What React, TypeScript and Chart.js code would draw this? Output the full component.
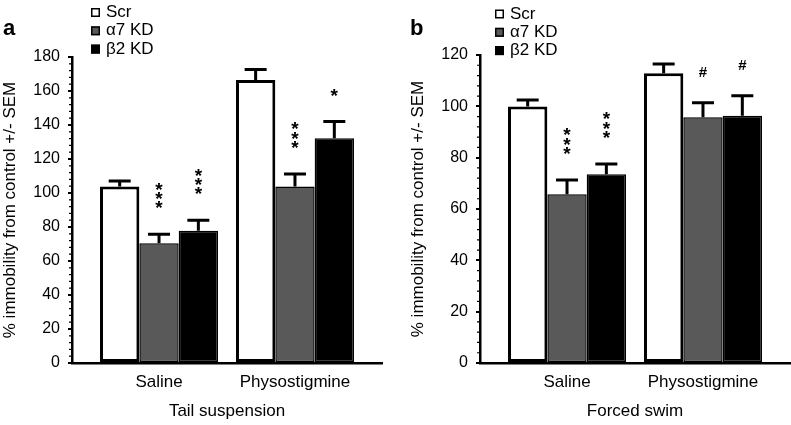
import React, { useEffect, useRef } from 'react';
import { Chart, registerables } from 'chart.js';

Chart.register(...registerables);

// ---------- data ----------
const CATEGORIES = ['Saline', 'Physostigmine'];
const SERIES = ['Scr', 'α7 KD', 'β2 KD'];
const COLORS = ['#ffffff', '#595959', '#000000'];
const Y_TITLE = '% immobility from control +/- SEM';

// Panel a – Tail suspension
const A_SCR = [103.8, 166.4];
const A_A7 = [70.5, 103.8];
const A_B2 = [77.8, 132.2];
const A_SCR_ERR = [3.2, 6.3];
const A_A7_ERR = [5.3, 7.4];
const A_B2_ERR = [6.1, 9.8];
const A_SIG_SCR = ['', ''];
const A_SIG_A7 = ['***', '***'];
const A_SIG_B2 = ['***', '*'];
const A_Y_MAX = 180;

// Panel b – Forced swim
const B_SCR = [99.9, 112.9];
const B_A7 = [65.7, 95.7];
const B_B2 = [73.5, 96.3];
const B_SCR_ERR = [2.6, 3.6];
const B_A7_ERR = [5.6, 5.7];
const B_B2_ERR = [4.0, 7.8];
const B_SIG_SCR = ['', ''];
const B_SIG_A7 = ['***', '#'];
const B_SIG_B2 = ['***', '#'];
const B_Y_MAX = 120;

const Y_STEP = 20;
const Y_MINOR_STEP = 4;

const FONT = '"Liberation Sans", Arial, sans-serif';

type PanelCfg = {
  letter: string;
  xTitle: string;
  values: number[][];
  errors: number[][];
  sigs: string[][];
  yMax: number;
  left: number;
  width: number;
  padLeft: number;
  padTop: number;
  padRight: number;
  legendX: number;
  legendTop: number;
  letterX: number;
};

const PANELS: PanelCfg[] = [
  {
    letter: 'a',
    xTitle: 'Tail suspension',
    values: [A_SCR, A_A7, A_B2],
    errors: [A_SCR_ERR, A_A7_ERR, A_B2_ERR],
    sigs: [A_SIG_SCR, A_SIG_A7, A_SIG_B2],
    yMax: A_Y_MAX,
    left: 0,
    width: 395,
    padLeft: 0,
    padTop: 57,
    padRight: 13,
    legendX: 91,
    legendTop: 12.5,
    letterX: 3,
  },
  {
    letter: 'b',
    xTitle: 'Forced swim',
    values: [B_SCR, B_A7, B_B2],
    errors: [B_SCR_ERR, B_A7_ERR, B_B2_ERR],
    sigs: [B_SIG_SCR, B_SIG_A7, B_SIG_B2],
    yMax: B_Y_MAX,
    left: 400,
    width: 391,
    padLeft: 8,
    padTop: 55,
    padRight: 1,
    legendX: 95,
    legendTop: 14,
    letterX: 10,
  },
];

function Panel({ cfg }: { cfg: PanelCfg }) {
  const ref = useRef<HTMLCanvasElement>(null);

  useEffect(() => {
    const canvas = ref.current;
    if (!canvas) return;

    const overlay = {
      id: 'overlay' + cfg.letter,
      afterDatasetsDraw(chart: any) {
        const ctx = chart.ctx as CanvasRenderingContext2D;
        const yScale = chart.scales.y;
        cfg.values.forEach((vals, s) => {
          const meta = chart.getDatasetMeta(s);
          meta.data.forEach((bar: any, i: number) => {
            const yErr = yScale.getPixelForValue(vals[i] + cfg.errors[s][i]);
            ctx.save();
            ctx.strokeStyle = '#000';
            ctx.lineWidth = 3;
            ctx.beginPath();
            ctx.moveTo(bar.x, bar.y);
            ctx.lineTo(bar.x, yErr);
            ctx.moveTo(bar.x - 11, yErr);
            ctx.lineTo(bar.x + 11, yErr);
            ctx.stroke();

            const sig = cfg.sigs[s][i];
            if (sig) {
              ctx.fillStyle = '#000';
              ctx.textAlign = 'center';
              ctx.textBaseline = 'alphabetic';
              const base = yErr - 31;
              sig.split('').forEach((ch, k) => {
                const cy = base - k * 9.3;
                if (ch === '*') {
                  ctx.font = `bold 19px ${FONT}`;
                  ctx.fillText(ch, bar.x, cy + 11);
                } else {
                  ctx.font = `bold 15px ${FONT}`;
                  ctx.fillText(ch, bar.x, cy + 5.3);
                }
              });
            }
            ctx.restore();
          });
        });
      },
      afterDraw(chart: any) {
        const ctx = chart.ctx as CanvasRenderingContext2D;
        const yScale = chart.scales.y;
        const axisX = chart.chartArea.left;
        ctx.save();
        // minor ticks
        ctx.strokeStyle = '#000';
        ctx.lineWidth = 1.2;
        ctx.beginPath();
        for (let v = 0; v <= cfg.yMax; v += Y_MINOR_STEP) {
          if (v % Y_STEP === 0) continue;
          const y = yScale.getPixelForValue(v);
          ctx.moveTo(axisX - 3, y);
          ctx.lineTo(axisX, y);
        }
        ctx.stroke();

        // legend
        SERIES.forEach((name, s) => {
          const cy = cfg.legendTop + s * 18.3;
          ctx.fillStyle = COLORS[s];
          ctx.fillRect(cfg.legendX, cy - 4.5, 9, 9);
          ctx.strokeStyle = '#000';
          ctx.lineWidth = 1.5;
          ctx.strokeRect(cfg.legendX + 0.75, cy - 3.75, 7.5, 7.5);
          ctx.fillStyle = '#000';
          ctx.font = `17px ${FONT}`;
          ctx.textAlign = 'left';
          ctx.textBaseline = 'middle';
          ctx.fillText(name, cfg.legendX + 15, cy);
        });

        // panel letter
        ctx.font = `bold 22px ${FONT}`;
        ctx.textAlign = 'left';
        ctx.textBaseline = 'alphabetic';
        ctx.fillStyle = '#000';
        ctx.fillText(cfg.letter, cfg.letterX, 35);
        ctx.restore();
      },
    };

    const chart = new Chart(canvas, {
      type: 'bar',
      data: {
        datasets: SERIES.map((name, s) => ({
          label: name,
          data: cfg.values[s].map((v, i) => ({ x: i + 1, y: v })),
          backgroundColor: COLORS[s],
          borderColor: '#000',
          borderWidth: s === 0 ? 3 : 1.5,
          borderSkipped: false,
          barPercentage: 1,
          categoryPercentage: 0.868,
        })),
      },
      options: {
        responsive: false,
        animation: false,
        devicePixelRatio: 1,
        layout: {
          padding: { left: cfg.padLeft, top: cfg.padTop, right: cfg.padRight, bottom: 0 },
        },
        plugins: {
          legend: { display: false },
          tooltip: { enabled: false },
        },
        scales: {
          x: {
            type: 'linear',
            min: 0.36,
            max: 2.64,
            bounds: 'data',
            offset: false,
            afterBuildTicks: (s: any) => {
              s.ticks = CATEGORIES.map((_, i) => ({ value: i + 1 }));
            },
            afterFit: (s: any) => {
              s.height = 62;
            },
            grid: { display: true, drawOnChartArea: false, drawTicks: false, offset: false },
            border: { display: true, color: '#000', width: 2.5 },
            ticks: {
              callback: (v: any) => CATEGORIES[Math.round(Number(v)) - 1] ?? '',
              color: '#000',
              font: { family: FONT, size: 17 },
              padding: 9,
              maxRotation: 0,
              autoSkip: false,
            },
            title: {
              display: true,
              text: cfg.xTitle,
              color: '#000',
              font: { family: FONT, size: 17 },
              padding: { top: 0, bottom: 3 },
            },
          },
          y: {
            min: 0,
            max: cfg.yMax,
            afterFit: (s: any) => {
              s.width = 72;
            },
            ticks: {
              stepSize: Y_STEP,
              color: '#000',
              font: { family: FONT, size: 16 },
              padding: 8,
            },
            grid: {
              drawOnChartArea: false,
              drawTicks: true,
              tickLength: 4,
              color: '#000',
              lineWidth: 2,
            },
            border: { display: true, color: '#000', width: 2.5 },
            title: {
              display: true,
              text: Y_TITLE,
              color: '#000',
              font: { family: FONT, size: 17 },
              padding: { top: 0, bottom: 0 },
            },
          },
        },
      } as any,
      plugins: [overlay],
    });

    return () => chart.destroy();
  }, [cfg]);

  return (
    <canvas
      ref={ref}
      width={cfg.width}
      height={425}
      style={{ position: 'absolute', left: cfg.left, top: 0 }}
    />
  );
}

export default function App() {
  return (
    <div
      style={{
        position: 'absolute',
        left: 0,
        top: 0,
        width: 791,
        height: 425,
        background: '#fff',
        overflow: 'hidden',
      }}
    >
      {PANELS.map((p) => (
        <Panel key={p.letter} cfg={p} />
      ))}
    </div>
  );
}
